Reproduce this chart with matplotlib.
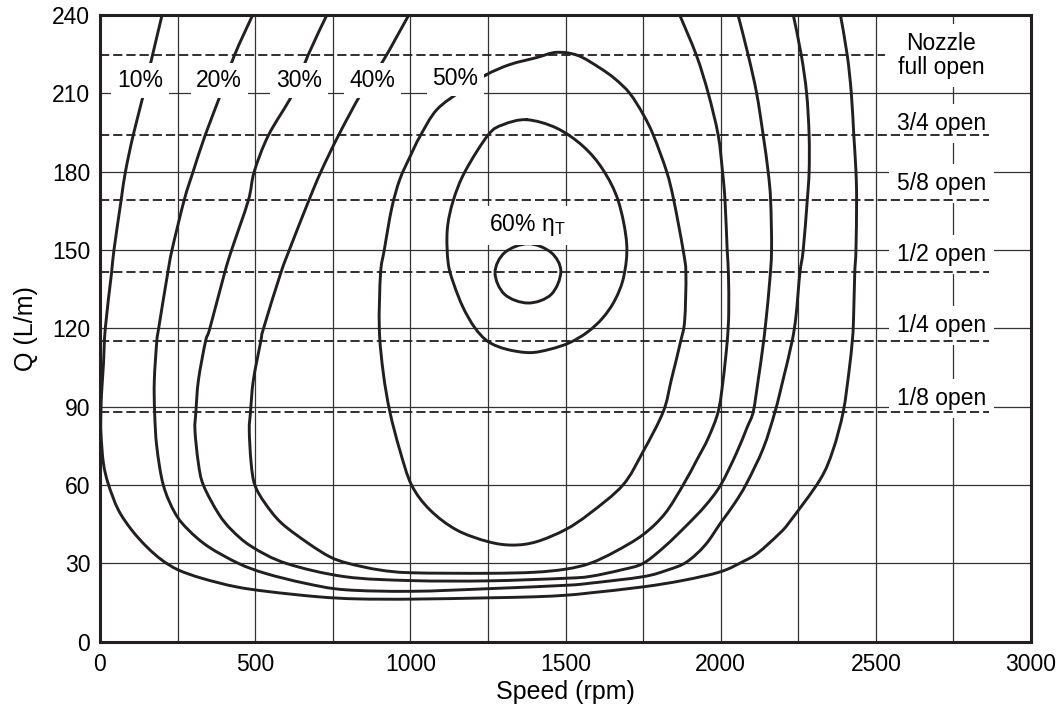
import numpy as np
import matplotlib
matplotlib.use("Agg")
import matplotlib.pyplot as plt
from matplotlib.path import Path
from matplotlib.patches import PathPatch

plt.rcParams['font.family'] = ['Liberation Sans', 'DejaVu Sans']
plt.rcParams['mathtext.fontset'] = 'custom'
plt.rcParams['mathtext.rm'] = 'Liberation Sans'
plt.rcParams['mathtext.it'] = 'Liberation Sans:italic'

INK = '#231f20'

# ---------------- data (speed rpm, Q L/m) ----------------
eff10_x = [200, 164, 141, 107, 82, 68, 45, 37, 17, 11, 5, 3, 3, 11, 27, 59, 102, 150, 199, 252, 328,
           435, 542, 703, 827, 1004, 1251, 1400, 1501, 1580, 1750, 1880, 2000, 2072, 2120, 2190, 2223,
           2320, 2362, 2395, 2414, 2424, 2428, 2432, 2436, 2438, 2436, 2429, 2421, 2408, 2386]
eff10_y = [240, 222, 210, 194, 180, 169, 150, 141, 120, 106, 95, 88, 80, 68.4, 60.3, 50.5, 42.8, 36.4, 31.3,
           27.5, 24.3, 21.1, 19.2, 17.2, 16.4, 16.3, 16.8, 17.2, 17.8, 18.7, 21, 23.5, 26.8, 30.7, 34, 41.5, 46,
           62, 73.4, 88.1, 104, 115, 123, 141, 150, 169, 180, 194, 210, 224.5, 240]

eff20_x = [492, 433, 390, 339, 300, 271, 232, 218, 189, 183, 175, 176, 183, 204, 242, 285, 349, 446, 532,
           660, 789, 1004, 1251, 1501, 1579, 1750, 1830, 1890, 1950, 2000, 2045, 2083, 2137, 2175, 2201,
           2230, 2243, 2255, 2266, 2279, 2285, 2285, 2277, 2260, 2234]
eff20_y = [240, 224.5, 210, 194, 180, 169, 150, 141, 120, 115, 100, 88, 74.7, 60, 49.2, 42.8, 36.4, 30, 26.2,
           22.4, 19.9, 19.3, 20.3, 21.6, 22.4, 24.9, 27.5, 30.5, 37, 45.5, 53, 60.5, 74, 88, 100.3,
           115, 125, 141, 150, 169, 180, 194, 210, 224.5, 240]

eff30_x = [731, 670, 622, 543, 497, 478, 424, 401, 354, 340, 317, 309, 306, 317, 333, 381, 424, 489, 600,
           789, 1004, 1251, 1501, 1579, 1680, 1750, 1820, 1890, 1950, 2000, 2050, 2085, 2105, 2121, 2135,
           2146, 2158, 2164, 2161, 2153, 2137, 2116, 2089, 2056]
eff30_y = [240, 224.5, 210, 194, 180, 169, 150, 141, 120, 115, 100, 88, 81, 68.4, 60, 49.2, 42.8, 36.4, 30,
           24.9, 23.4, 23.3, 24.3, 25, 27.5, 30, 36.5, 44.5, 52, 60, 72, 82, 88.1, 100.3, 112,
           123, 138, 150, 169, 180, 194, 210, 224.5, 240]

eff40_x = [995, 910, 842, 769, 712, 673, 610, 582, 527, 518, 494, 485, 481, 487, 499, 532, 585, 671, 741,
           800, 900, 1004, 1251, 1400, 1501, 1579, 1660, 1750, 1820, 1879, 1925, 1960, 1992, 2008, 2021,
           2026, 2025, 2021, 2014, 2006, 1992, 1960, 1922, 1868]
eff40_y = [240, 222, 210, 194, 180, 169, 150, 141, 120, 115, 100, 88, 81, 68.4, 60, 53, 45.4, 37.7, 32.5,
           30, 27.5, 26.4, 26.2, 26.6, 27.8, 30, 34.5, 41, 49, 60, 70, 78, 88.1, 100.3, 115,
           126, 141, 150, 169, 180, 194, 210, 224.5, 240]

eff50_x = [1243, 1320, 1407, 1471, 1540, 1611, 1660, 1707, 1750, 1783, 1826, 1849, 1879, 1888, 1884, 1871,
           1841, 1815, 1750, 1685, 1579, 1501, 1407, 1330, 1251, 1149, 1063, 1004, 966, 934, 913, 900,
           904, 916, 940, 966, 1000, 1031, 1085, 1165, 1243]
eff50_y = [217, 221, 223.7, 225.7, 224.5, 219.7, 215.5, 210, 202, 194, 180, 169, 150, 141, 123, 115,
           100.3, 88.1, 72.8, 60, 49.2, 43, 38.3, 37, 38.3, 42.8, 50.5, 60, 73.4, 88.1, 102.8, 120,
           141, 150, 166, 177, 186, 193.5, 203.7, 211, 217]

eff60_x = [1375, 1471, 1557, 1621, 1670, 1697, 1688, 1660, 1620, 1570, 1513, 1450, 1385, 1310, 1251,
           1208, 1170, 1140, 1122, 1119, 1138, 1176, 1251, 1299, 1375]
eff60_y = [199.9, 196.7, 189.7, 180.7, 168.8, 152.6, 140, 131, 124, 118.5, 114.5, 112, 110.7, 112,
           114.9, 120.2, 128, 137, 145, 157.7, 168.8, 180, 194.1, 198, 199.9]

peak_x = [1380, 1454, 1485, 1454, 1380, 1304, 1273, 1304, 1380]
peak_y = [152.4, 149, 141.8, 133, 129.7, 133, 141.3, 149, 152.4]

curves_x = [eff10_x, eff20_x, eff30_x, eff40_x, eff50_x, eff60_x, peak_x]
curves_y = [eff10_y, eff20_y, eff30_y, eff40_y, eff50_y, eff60_y, peak_y]

eff_labels = ['10%', '20%', '30%', '40%', '50%']
eff_label_x = [129, 384, 641, 878, 1145]
eff_label_y = [215, 215, 215, 215, 215.5]

nozzle_y = [224.5, 194, 169, 141.5, 115, 88]
nozzle_end = [2529, 2864, 2864, 2864, 2864, 2864]
nozzle_labels = ['Nozzle\nfull open', '3/4 open', '5/8 open', '1/2 open', '1/4 open', '1/8 open']
nozzle_label_x = 2711
nozzle_label_base = [217.4, 196.0, 172.8, 145.7, 118.6, 90.5]

x_ticks = [0, 500, 1000, 1500, 2000, 2500, 3000]
y_ticks = [0, 30, 60, 90, 120, 150, 180, 210, 240]


def smooth_path(xs, ys):
    """Catmull-Rom curve through the read points, expressed as cubic Bezier path."""
    p = np.column_stack([xs, ys]).astype(float)
    closed = np.allclose(p[0], p[-1])
    if closed:
        core = p[:-1]
        n = len(core)
        get = lambda i: core[i % n]
        segs = n
    else:
        n = len(p)
        get = lambda i: p[min(max(i, 0), n - 1)]
        segs = n - 1
    verts = [get(0)]
    codes = [Path.MOVETO]
    for i in range(segs):
        p0, p1, p2, p3 = get(i - 1), get(i), get(i + 1), get(i + 2)
        c1 = p1 + (p2 - p0) / 6.0
        c2 = p2 - (p3 - p1) / 6.0
        verts += [c1, c2, p2]
        codes += [Path.CURVE4] * 3
    return Path(np.array(verts), codes)


# ---------------- figure ----------------
fig = plt.figure(figsize=(10.63, 7.10), dpi=100)
ax = fig.add_axes([100 / 1063, 68.3 / 710, 931 / 1063, 626.7 / 710])
ax.set_xlim(0, 3000)
ax.set_ylim(0, 240)

ax.set_xticks(x_ticks)
ax.set_xticks(np.arange(0, 3001, 250), minor=True)
ax.set_yticks(y_ticks)
ax.grid(which='both', axis='x', color='#333333', lw=0.9, zorder=0)
ax.grid(which='major', axis='y', color='#333333', lw=0.9, zorder=0)
ax.set_axisbelow(True)
ax.tick_params(which='both', length=0, labelsize=16.5, colors='black')
ax.tick_params(axis='x', pad=8)
ax.tick_params(axis='y', pad=7)
for s in ax.spines.values():
    s.set_linewidth(2.2)
    s.set_color(INK)
    s.set_zorder(5)

for cx, cy in zip(curves_x, curves_y):
    patch = PathPatch(smooth_path(cx, cy), fill=False, edgecolor=INK, lw=2.1,
                      joinstyle='round', capstyle='round', zorder=2)
    ax.add_patch(patch)

for yv, xe in zip(nozzle_y, nozzle_end):
    ax.plot([0, xe], [yv, yv], color=INK, lw=1.3, dashes=(5.1, 2.2), zorder=4)

for t, x, y in zip(eff_labels, eff_label_x, eff_label_y):
    ax.text(x, y, t, ha='center', va='center', fontsize=16.5, zorder=3,
            bbox=dict(boxstyle='square,pad=0.25', fc='white', ec='none'))

ax.text(1377, 157.1, r'60% η$_\mathrm{T}$', ha='center', va='baseline', fontsize=16.5, zorder=3,
        bbox=dict(boxstyle='square,pad=0.3', fc='white', ec='none'))

for t, yb in zip(nozzle_labels, nozzle_label_base):
    ax.text(nozzle_label_x, yb, t, ha='center', va='baseline', fontsize=16.5, zorder=3,
            linespacing=1.05, multialignment='center',
            bbox=dict(boxstyle='square,pad=0.35', fc='white', ec='none'))

ax.set_xlabel('Speed (rpm)', fontsize=18, labelpad=3)
ax.set_ylabel('Q (L/m)', fontsize=18, labelpad=10)

fig.savefig('out.png', dpi=100)
